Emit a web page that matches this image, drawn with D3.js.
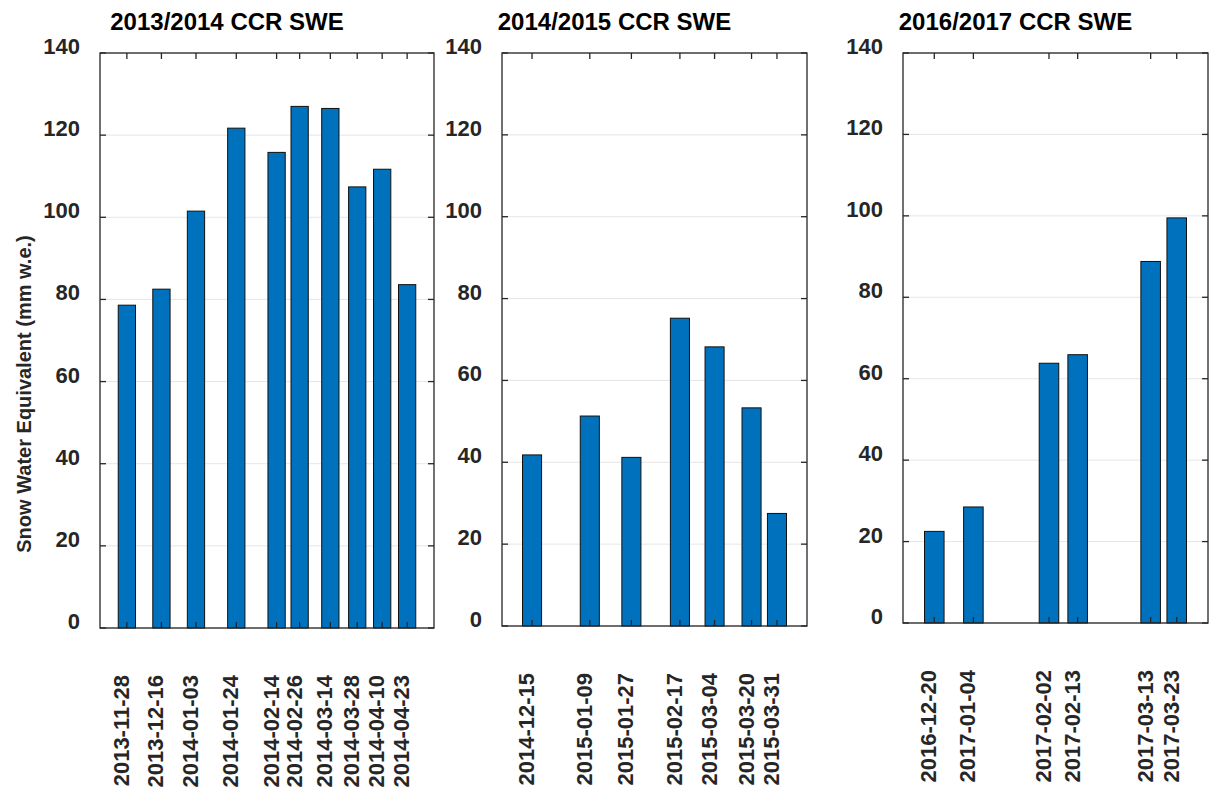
<!DOCTYPE html>
<html>
<head>
<meta charset="utf-8">
<script src="https://cdn.jsdelivr.net/npm/d3@7"></script>
<style>
  body { margin: 0; background: #fff; }
  svg { display: block; font-family: "Liberation Sans", Arial, sans-serif; }
</style>
</head>
<body>
<svg id="chart" width="1213" height="794"></svg>
<script>
// data
const titles = ["2013/2014 CCR SWE", "2014/2015 CCR SWE", "2016/2017 CCR SWE"];

const dates1 = ["2013-11-28", "2013-12-16", "2014-01-03", "2014-01-24", "2014-02-14",
    "2014-02-26", "2014-03-14", "2014-03-28", "2014-04-10", "2014-04-23"];
const swe1 = [78.6, 82.5, 101.5, 121.7, 115.8, 127.0, 126.5, 107.4, 111.7, 83.6];

const dates2 = ["2014-12-15", "2015-01-09", "2015-01-27", "2015-02-17", "2015-03-04",
    "2015-03-20", "2015-03-31"];
const swe2 = [41.8, 51.3, 41.2, 75.2, 68.2, 53.3, 27.5];

const dates3 = ["2016-12-20", "2017-01-04", "2017-02-02", "2017-02-13", "2017-03-13", "2017-03-23"];
const swe3 = [22.5, 28.5, 63.8, 65.9, 88.8, 99.5];

const yTicks = [0, 20, 40, 60, 80, 100, 120, 140];
const yLabel = "Snow Water Equivalent (mm w.e.)";

// x limits of each panel
const xLims = [["2013-11-14", "2014-05-07"], ["2014-12-02", "2015-04-13"], ["2016-12-08", "2017-04-04"]];

// panel boxes in pixels
const boxes = [
    { left: 100, right: 434, top: 53, bottom: 628 },
    { left: 502, right: 807, top: 53, bottom: 626 },
    { left: 903, right: 1208, top: 53, bottom: 623 }
];

const parse = d3.utcParse("%Y-%m-%d");
const svg = d3.select("#chart");
const axisColor = "#262626";
const barColor = "#0072BD";
const tickLen = 6;
const DAY = 864e5;

const panels = [
    { dates: dates1, values: swe1 },
    { dates: dates2, values: swe2 },
    { dates: dates3, values: swe3 }
];

panels.forEach((p, i) => {
    const box = boxes[i];
    const data = p.dates.map((d, j) => ({ date: parse(d), label: d, value: p.values[j] }));

    const x = d3.scaleUtc()
        .domain(xLims[i].map(parse))
        .range([box.left, box.right]);
    const y = d3.scaleLinear()
        .domain([0, 140])
        .range([box.bottom, box.top]);

    // bar width = 0.75 of the smallest gap between dates
    let minGap = Infinity;
    for (let j = 1; j < data.length; j++) {
        minGap = Math.min(minGap, (data[j].date - data[j - 1].date) / DAY);
    }
    const halfW = minGap * 0.75 / 2 * DAY;

    const g = svg.append("g");

    // grid lines
    g.append("g")
        .selectAll("line")
        .data(yTicks)
        .enter().append("line")
        .attr("x1", box.left)
        .attr("x2", box.right)
        .attr("y1", d => y(d))
        .attr("y2", d => y(d))
        .attr("stroke", "#e6e6e6")
        .attr("stroke-width", 1);

    // bars
    g.append("g")
        .selectAll("rect")
        .data(data)
        .enter().append("rect")
        .attr("x", d => x(new Date(+d.date - halfW)))
        .attr("width", d => x(new Date(+d.date + halfW)) - x(new Date(+d.date - halfW)))
        .attr("y", d => y(d.value))
        .attr("height", d => y(0) - y(d.value))
        .attr("fill", barColor)
        .attr("stroke", "#111")
        .attr("stroke-width", 1);

    // box
    g.append("rect")
        .attr("x", box.left)
        .attr("y", box.top)
        .attr("width", box.right - box.left)
        .attr("height", box.bottom - box.top)
        .attr("fill", "none")
        .attr("stroke", axisColor)
        .attr("stroke-width", 1.3);

    // y ticks, left and right, pointing in
    const yt = g.append("g");
    yTicks.forEach(t => {
        yt.append("line")
            .attr("x1", box.left).attr("x2", box.left + tickLen)
            .attr("y1", y(t)).attr("y2", y(t))
            .attr("stroke", axisColor).attr("stroke-width", 1.3);
        yt.append("line")
            .attr("x1", box.right).attr("x2", box.right - tickLen)
            .attr("y1", y(t)).attr("y2", y(t))
            .attr("stroke", axisColor).attr("stroke-width", 1.3);
    });

    g.append("g")
        .selectAll("text")
        .data(yTicks)
        .enter().append("text")
        .attr("x", box.left - 20)
        .attr("y", d => y(d) + 1)
        .attr("text-anchor", "end")
        .attr("font-size", 22)
        .attr("font-weight", "bold")
        .attr("fill", axisColor)
        .text(d => d);

    // x ticks, top and bottom, pointing in
    const xt = g.append("g");
    data.forEach(d => {
        xt.append("line")
            .attr("x1", x(d.date)).attr("x2", x(d.date))
            .attr("y1", box.top).attr("y2", box.top + tickLen)
            .attr("stroke", axisColor).attr("stroke-width", 1.3);
        xt.append("line")
            .attr("x1", x(d.date)).attr("x2", x(d.date))
            .attr("y1", box.bottom).attr("y2", box.bottom - tickLen)
            .attr("stroke", axisColor).attr("stroke-width", 1.3);
    });

    // rotated date labels
    g.append("g")
        .selectAll("text")
        .data(data)
        .enter().append("text")
        .attr("transform", d => "translate(" + (x(d.date) + 2) + "," + (box.bottom + 47) + ") rotate(-90)")
        .attr("text-anchor", "end")
        .attr("font-size", 22)
        .attr("font-weight", "bold")
        .attr("fill", axisColor)
        .text(d => d.label);

    // title
    g.append("text")
        .attr("x", (box.left + box.right) / 2 - 40)
        .attr("y", 29.5)
        .attr("text-anchor", "middle")
        .attr("font-size", 24)
        .attr("font-weight", "bold")
        .attr("fill", "#000")
        .text(titles[i]);
});

// y axis title
svg.append("text")
    .attr("transform", "translate(31,394) rotate(-90)")
    .attr("text-anchor", "middle")
    .attr("font-size", 20)
    .attr("font-weight", "bold")
    .attr("fill", axisColor)
    .text(yLabel);
</script>
</body>
</html>
